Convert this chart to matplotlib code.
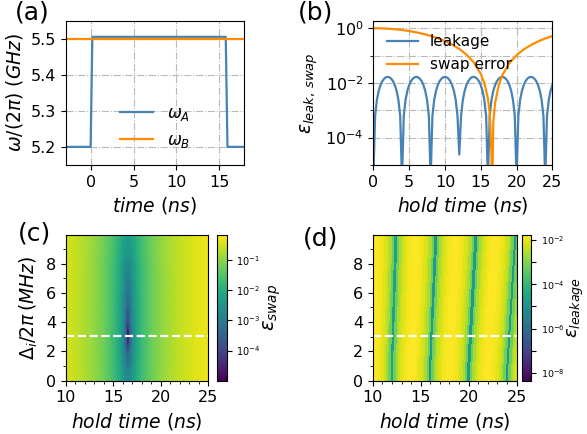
import matplotlib.pyplot as plt
import numpy as np
from matplotlib.colors import LogNorm
from matplotlib.ticker import MultipleLocator, NullFormatter

# (a) pulse shape
pulse_t = [-3.0, 0.0, 0.2, 15.75, 15.95, 18.0]
omega_a = [5.2, 5.2, 5.505, 5.505, 5.2, 5.2]
omega_b_t = [-3.0, 18.0]
omega_b = [5.5, 5.5]

# (b) leakage, one value every 0.25 ns from 0 to 25 ns
hold_step = 0.25
leakage = [
    3e-6, 6.3e-4, 2.4e-3, 5.1e-3, 8.3e-3, 1.15e-2, 1.42e-2, 1.6e-2, 1.66e-2, 1.6e-2, 1.42e-2, 1.15e-2, 8.3e-3, 5.1e-3, 2.4e-3, 6.3e-4,
    3e-6, 6.3e-4, 2.4e-3, 5.1e-3, 8.3e-3, 1.15e-2, 1.42e-2, 1.6e-2, 1.66e-2, 1.6e-2, 1.42e-2, 1.15e-2, 8.3e-3, 5.1e-3, 2.4e-3, 6.3e-4,
    3e-6, 6.3e-4, 2.4e-3, 5.1e-3, 8.3e-3, 1.15e-2, 1.42e-2, 1.6e-2, 1.66e-2, 1.6e-2, 1.42e-2, 1.15e-2, 8.3e-3, 5.1e-3, 2.4e-3, 6.3e-4,
    2.4e-5, 6.3e-4, 2.4e-3, 5.1e-3, 8.3e-3, 1.15e-2, 1.42e-2, 1.6e-2, 1.66e-2, 1.6e-2, 1.42e-2, 1.15e-2, 8.3e-3, 5.1e-3, 2.4e-3, 6.3e-4,
    3e-6, 6.3e-4, 2.4e-3, 5.1e-3, 8.3e-3, 1.15e-2, 1.42e-2, 1.6e-2, 1.66e-2, 1.6e-2, 1.42e-2, 1.15e-2, 8.3e-3, 5.1e-3, 2.4e-3, 6.3e-4,
    3e-6, 6.3e-4, 2.4e-3, 5.1e-3, 8.3e-3, 1.15e-2, 1.42e-2, 1.6e-2, 1.66e-2, 1.6e-2, 1.42e-2, 1.15e-2, 8.3e-3, 5.1e-3, 2.4e-3, 6.3e-4,
    3e-6, 6.3e-4, 2.4e-3, 5.1e-3, 8.3e-3,
]

# (b) swap error at the working detuning
swap_t = [0, 1, 2, 3, 4, 5, 6, 7, 8, 9, 10, 11, 12, 13, 14, 15, 15.5, 16, 16.25,
          16.5, 16.55, 16.75, 17, 17.5, 18, 19, 20, 21, 22, 23, 24, 25]
swap_err = [1.0, 0.991, 0.964, 0.921, 0.863, 0.791, 0.709, 0.62, 0.526, 0.432,
            0.339, 0.253, 0.175, 0.109, 0.0575, 0.0215, 0.0099, 0.0027, 8.1e-4,
            2.3e-5, 1e-7, 3.6e-4, 1.8e-3, 8.1e-3, 0.0188, 0.053, 0.103, 0.168,
            0.243, 0.33, 0.423, 0.518]

# (c) residual swap error floor versus detuning
delta_rows = [0, 1, 2, 2.5, 3.08, 3.5, 4, 5, 6, 7, 8, 10]
swap_floor = [2.5e-3, 1e-3, 2.5e-4, 7e-5, 1e-5, 3e-5, 9e-5, 3e-4, 7e-4, 1.2e-3, 2e-3, 6e-3]
delta_cut = 3.08

# (d) stripes drift by this fraction of hold time between 0 and 10 MHz
stripe_drift = 0.04
leak_floor = 1.5e-5

blue = "steelblue"
orange = "darkorange"
grid_kw = dict(linestyle="-.", color="0.72", linewidth=0.8)

fig = plt.figure(figsize=(5.87, 4.34), dpi=100)

# (a)
ax = fig.add_axes([0.112, 0.620, 0.304, 0.3325])
ax.plot(pulse_t, omega_a, color=blue, lw=1.6, label=r"$\omega_A$")
ax.plot(omega_b_t, omega_b, color=orange, lw=1.6, label=r"$\omega_B$")
ax.set_xlim(-2.9, 17.9)
ax.set_ylim(5.15, 5.55)
ax.set_xticks([0, 5, 10, 15])
ax.set_yticks([5.2, 5.3, 5.4, 5.5])
ax.grid(True, **grid_kw)
ax.tick_params(labelsize=11.5)
ax.set_xlabel(r"$time\ (ns)$", fontsize=13.5)
ax.set_ylabel(r"$\omega/(2\pi)\ (GHz)$", fontsize=13.5)
ax.legend(loc="lower center", frameon=False, fontsize=12)

# (b)
hold_t = np.arange(len(leakage)) * hold_step
ax = fig.add_axes([0.636, 0.620, 0.305, 0.3325])
ax.plot(hold_t, leakage, color=blue, lw=1.6, label="leakage")
ax.plot(swap_t, swap_err, color=orange, lw=1.6, label="swap error")
ax.set_yscale("log")
ax.set_xlim(0, 25)
ax.set_ylim(1e-5, 1.9)
ax.set_xticks([0, 5, 10, 15, 20, 25])
ax.set_yticks([1e-4, 1e-2, 1e0])
ax.set_yticks([1e-5, 1e-3, 1e-1], minor=True)
ax.yaxis.set_minor_formatter(NullFormatter())
ax.grid(True, which="both", **grid_kw)
ax.tick_params(labelsize=11.5)
ax.set_xlabel(r"$hold\ time\ (ns)$", fontsize=13.5)
ax.set_ylabel(r"$\epsilon_{leak,\,swap}$", fontsize=13.5)
ax.legend(loc="upper left", frameon=False, fontsize=11)

# (c)
sel = np.array(swap_t) >= 10
c_t = np.array(swap_t)[sel]
c_map = np.array(swap_floor)[:, None] + np.array(swap_err)[sel][None, :]
ax = fig.add_axes([0.112, 0.1228, 0.243, 0.3357])
norm_c = LogNorm(vmin=1e-5, vmax=0.68)
im = ax.pcolormesh(c_t, delta_rows, c_map, cmap="viridis", norm=norm_c,
                   shading="gouraud")
ax.set_xlim(10, 25)
ax.set_ylim(0, 9.95)
ax.axhline(delta_cut, color="white", ls="--", lw=1.6)
ax.set_xticks([10, 15, 20, 25])
ax.set_yticks([0, 2, 4, 6, 8])
ax.xaxis.set_minor_locator(MultipleLocator(1))
ax.yaxis.set_minor_locator(MultipleLocator(1))
ax.tick_params(labelsize=11.5)
ax.set_xlabel(r"$hold\ time\ (ns)$", fontsize=13.5)
ax.set_ylabel(r"$\Delta_i/2\pi\,(MHz)$", fontsize=13.5)
cax = fig.add_axes([0.370, 0.1228, 0.016, 0.3357])
cb = fig.colorbar(im, cax=cax)
cb.set_ticks([1e-1, 1e-2, 1e-3, 1e-4])
cb.minorticks_off()
cb.ax.tick_params(labelsize=7)
cb.set_label(r"$\epsilon_{swap}$", fontsize=14, labelpad=1)

# (d)
edges = np.r_[hold_t - hold_step / 2, hold_t[-1] + hold_step / 2]
X = np.vstack([edges, edges * (1 + stripe_drift)])
Y = np.vstack([np.zeros_like(edges), np.full_like(edges, 10.0)])
C = np.clip(np.array(leakage), leak_floor, None)[None, :]
ax = fig.add_axes([0.635, 0.1228, 0.245, 0.3357])
norm_d = LogNorm(vmin=4.4e-9, vmax=1.7e-2)
mesh = ax.pcolormesh(X, Y, C, cmap="viridis", norm=norm_d, shading="flat")
ax.set_xlim(10, 25)
ax.set_ylim(0, 9.95)
ax.axhline(delta_cut, color="white", ls="--", lw=1.6)
ax.set_xticks([10, 15, 20, 25])
ax.set_yticks([0, 2, 4, 6, 8])
ax.xaxis.set_minor_locator(MultipleLocator(1))
ax.yaxis.set_minor_locator(MultipleLocator(1))
ax.tick_params(labelsize=11.5)
ax.set_xlabel(r"$hold\ time\ (ns)$", fontsize=13.5)
cax = fig.add_axes([0.889, 0.1228, 0.016, 0.3357])
cb = fig.colorbar(mesh, cax=cax)
cb.set_ticks([1e-2, 1e-3, 1e-4, 1e-5, 1e-6, 1e-7, 1e-8],
             labels=[r"$10^{-2}$", "", r"$10^{-4}$", "", r"$10^{-6}$", "", r"$10^{-8}$"])
cb.minorticks_off()
cb.ax.tick_params(labelsize=6.8)
cb.set_label(r"$\epsilon_{leakage}$", fontsize=13, labelpad=1)

# panel letters
fig.text(0.026, 0.954, "(a)", fontsize=18)
fig.text(0.508, 0.954, "(b)", fontsize=18)
fig.text(0.031, 0.445, "(c)", fontsize=18)
fig.text(0.516, 0.435, "(d)", fontsize=18)

fig.savefig("out.png", dpi=100)
